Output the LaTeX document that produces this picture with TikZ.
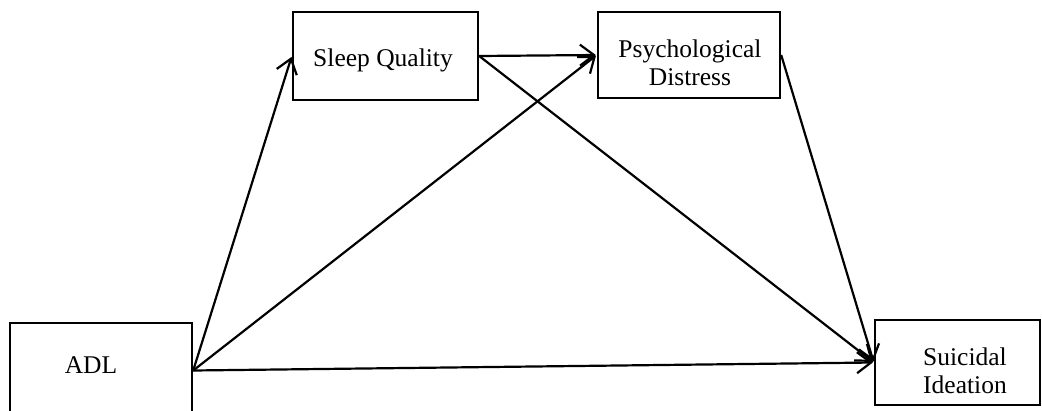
\documentclass[tikz,border=0pt]{standalone}
\usepackage{fontspec}
\setmainfont{Liberation Serif}
\usetikzlibrary{arrows.meta}
\begin{document}
\begin{tikzpicture}[x=1pt,y=-1pt,
  box/.style={draw=black, line width=2.4pt, fill=white, inner sep=0pt, rectangle},
  lbl/.style={inner sep=0pt, anchor=base, font=\fontsize{25.5}{28}\selectfont},
  arr/.style={draw=black, line width=2.2pt, -{Straight Barb[length=14pt,width=21pt,line width=2.2pt]}, shorten >=1pt}]
\useasboundingbox (0,0) rectangle (1042,410);
\clip (0,0) rectangle (1042,410);
\fill[white] (0,0) rectangle (1042,410);
% boxes
\node[box, minimum width=182pt, minimum height=92pt] (adl) at (101,369) {};
\node[box, minimum width=185pt, minimum height=88pt] (sq) at (385.5,56) {};
\node[box, minimum width=182pt, minimum height=86pt] (pd) at (689,55) {};
\node[box, minimum width=165pt, minimum height=85pt] (si) at (957.5,362.5) {};
% labels
\node[lbl] (adltxt) at (91,373) {ADL};
\node[lbl] (sqtxt) at (383,66) {Sleep Quality};
\node[lbl] (pdtxt1) at (690,57) {Psychological};
\node[lbl] (pdtxt2) at (690,85) {Distress};
\node[lbl] (sitxt1) at (965,365) {Suicidal};
\node[lbl] (sitxt2) at (965,393) {Ideation};
% connectors
\coordinate (adlout) at ([yshift=-1.5pt]adl.east);
\draw[arr] (adlout) -- (sq.west);
\draw[arr] (adlout) -- (pd.west);
\draw[arr] (adlout) -- (si.west);
\draw[arr] (sq.east) -- (pd.west);
\draw[arr] (sq.east) -- (si.west);
\draw[arr] (pd.east) -- (si.west);
\end{tikzpicture}
\end{document}
